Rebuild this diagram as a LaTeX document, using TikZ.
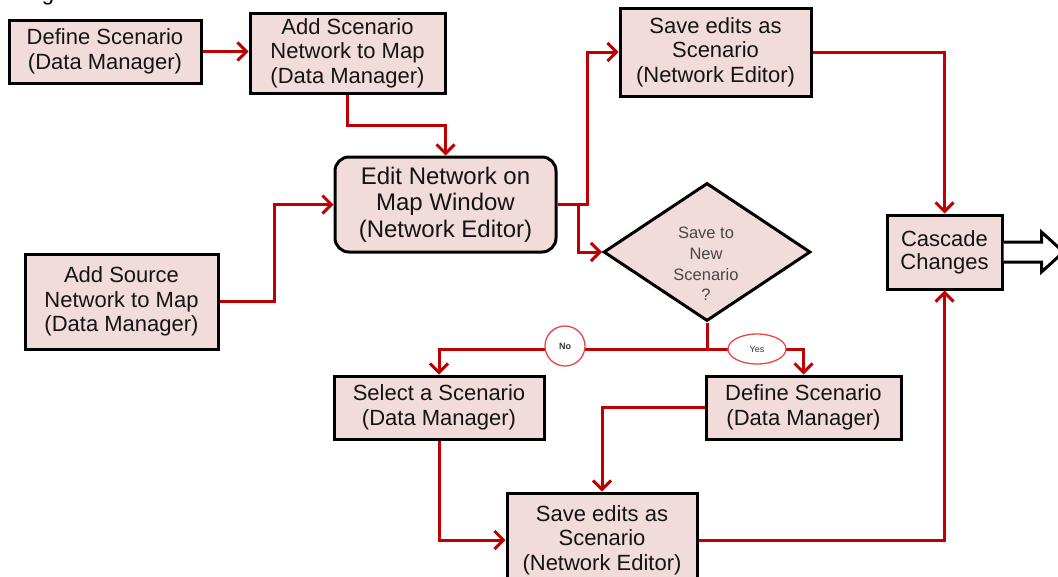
\documentclass[tikz,border=0pt]{standalone}
\usepackage{fontspec}
\setmainfont{Liberation Sans}
\usetikzlibrary{arrows.meta,shapes.geometric}
\definecolor{boxfill}{RGB}{242,220,219}
\definecolor{flowred}{RGB}{192,0,0}
\definecolor{tagred}{RGB}{232,70,70}
\definecolor{boxtext}{RGB}{20,20,20}

\begin{document}
\begin{tikzpicture}[x=1pt,y=-1pt,
  stepbox/.style={draw=black, line width=3pt, fill=boxfill, text=boxtext,
    align=center, inner sep=0pt, font=\fontsize{22}{24.5}\selectfont},
  flow/.style={draw=flowred, line width=3pt,
    -{Straight Barb[length=9pt,width=18pt]}},
  link/.style={draw=flowred, line width=3pt},
  tag/.style={draw=tagred, line width=1.3pt, fill=white, inner sep=0pt,
    text=black!80, font=\fontsize{9}{10}\selectfont},
  fatarrow/.style={draw=black, line width=3pt, fill=white, line join=miter}
]
\useasboundingbox (0,0) rectangle (1058,576);
\clip (0,0) rectangle (1058,576);

% descender of a heading letter above the chart
\node[anchor=base, inner sep=0pt, font=\fontsize{22}{24}\selectfont] (gFrag) at (48,0.5) {g};

% process boxes
\node[stepbox, minimum width=192pt, minimum height=63pt] (defA) at (105,51.5)
  {Define Scenario\\(Data Manager)};
\node[stepbox, minimum width=195pt, minimum height=80pt] (addScen) at (347.5,53)
  {Add Scenario\\Network to Map\\(Data Manager)};
\node[stepbox, rounded corners=14pt, minimum width=221pt, minimum height=95pt,
  font=\fontsize{24}{26.5}\selectfont] (edit) at (445.5,204.5)
  {Edit Network on\\Map Window\\(Network Editor)};
\node[stepbox, minimum width=193pt, minimum height=95pt] (addSrc) at (121.5,301.5)
  {Add Source\\Network to Map\\(Data Manager)};
\node[stepbox, minimum width=191pt, minimum height=88pt] (saveTop) at (715.5,52)
  {Save edits as\\Scenario\\(Network Editor)};
\node[stepbox, minimum width=115pt, minimum height=74pt,
  font=\fontsize{22}{23}\selectfont] (casc) at (944.5,252)
  {Cascade\\Changes};
\node[stepbox, minimum width=210pt, minimum height=63pt] (selScen) at (439,407.5)
  {Select a Scenario\\(Data Manager)};
\node[stepbox, minimum width=195pt, minimum height=63pt] (defB) at (803.5,407.5)
  {Define Scenario\\(Data Manager)};
\node[stepbox, minimum width=190pt, minimum height=94pt] (saveBot) at (602,540)
  {Save edits as\\Scenario\\(Network Editor)};

% decision
\node[draw=black, line width=3pt, fill=boxfill, shape=diamond,
  minimum width=207pt, minimum height=138pt, inner sep=0pt] (dia) at (707,252) {};
\node[align=center, inner sep=0pt, text=black!72,
  font=\fontsize{16.5}{20.7}\selectfont] (diaTxt) at (706,264)
  {Save to\\New\\Scenario\\?};

% outgoing block arrow
\path (casc.east) ++(0,0) coordinate (ca0);
\draw[fatarrow] ([yshift=10pt]ca0) -- ++(38,0) -- ++(0,-10) -- ++(22,20)
  -- ++(-22,20) -- ++(0,-10) -- ([yshift=-10pt]ca0);

% connectors
\draw[flow] (defA.east) -- (defA.east -| addScen.west);
\draw[flow] (addScen.south) -- ++(0,31) -| (edit.north);
\draw[flow] (addSrc.east) -- ++(55,0) |- (edit.west);
\draw[flow] (edit.east) -- ++(30,0) |- (saveTop.west);
\draw[flow] (edit.east) ++(21,0) |- (dia.west);
\draw[link] (dia.south) -- ++(0,27) coordinate (fork);
\draw[flow] (fork) -| (selScen.north);
\draw[flow] (fork) -| (defB.north);
\draw[flow] (defB.west) -| (saveBot.north);
\draw[flow] (selScen.south) |- (saveBot.west);
\draw[flow] (saveTop.east) -| (casc.north);
\draw[flow] (saveBot.east) -| (casc.south);

% branch labels
\node[tag, circle, minimum size=40pt] (noTag) at (565,346) {\textbf{No}};
\node[tag, ellipse, minimum width=58pt, minimum height=30pt] (yesTag) at (757,349) {Yes};
\end{tikzpicture}
\end{document}
